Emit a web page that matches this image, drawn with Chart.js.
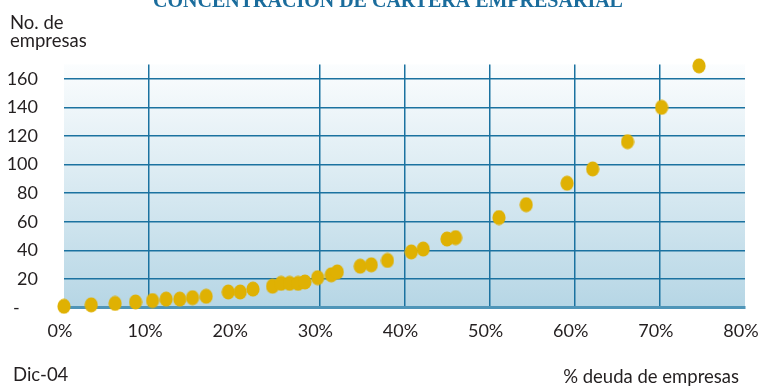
<!DOCTYPE html>
<html>
<head>
<meta charset="utf-8">
<script src="https://cdn.jsdelivr.net/npm/chart.js@4"></script>
<style>
  html, body { margin: 0; padding: 0; background: #ffffff; }
  #wrap { position: relative; width: 759px; height: 389px; }
</style>
</head>
<body>
<div id="wrap"><canvas id="c" width="759" height="389"></canvas></div>
<script>
// Concentración de cartera empresarial, Dic-04
const deudaPct = [0, 3.2, 6.0, 8.4, 10.4, 12.0, 13.6, 15.1, 16.7, 19.3, 20.7, 22.2, 24.5, 25.5, 26.5, 27.5, 28.3, 29.8, 31.4, 32.1, 34.8, 36.1, 38.0, 40.8, 42.2, 45.0, 46.0, 51.1, 54.3, 59.1, 62.1, 66.2, 70.2, 74.6];
const numEmpresas = [1, 2, 3, 4, 5, 6, 6, 7, 8, 11, 11, 13, 15, 17, 17, 17, 18, 21, 23, 25, 29, 30, 33, 39, 41, 48, 49, 63, 72, 87, 97, 116, 140, 169];
const yTicks = [0, 20, 40, 60, 80, 100, 120, 140, 160];
const xTicks = [0, 10, 20, 30, 40, 50, 60, 70, 80];
const xGridShown = [10, 30, 40, 50, 60, 70];

const titulo = 'CONCENTRACIÓN DE CARTERA EMPRESARIAL';
const ejeYTitulo = ['No. de', 'empresas'];
const ejeXTitulo = '% deuda de empresas';
const fecha = 'Dic-04';

const GOLD = '#dfb103';
const GRID = '#1b72a0';
const TEXT = '#231f20';
const FONT = 'Lato, "Open Sans", sans-serif';

// slightly tall oval marker
function ovalMarker() {
  const cv = document.createElement('canvas');
  cv.width = 14; cv.height = 16;
  const g = cv.getContext('2d');
  g.fillStyle = GOLD;
  g.beginPath();
  g.ellipse(7, 8, 6.6, 7.6, 0, 0, Math.PI * 2);
  g.fill();
  return cv;
}

const points = deudaPct.map((x, i) => ({ x: x, y: numEmpresas[i] }));

const decor = {
  id: 'decor',
  beforeDraw(chart) {
    const { ctx, chartArea: a } = chart;
    const grad = ctx.createLinearGradient(0, a.top, 0, a.bottom);
    grad.addColorStop(0, '#fbfdfe');
    grad.addColorStop(1, '#b6d6e5');
    ctx.save();
    ctx.fillStyle = grad;
    ctx.fillRect(a.left, a.top, a.right - a.left, a.bottom - a.top);
    ctx.restore();
  },
  afterDraw(chart) {
    const { ctx } = chart;
    ctx.save();
    ctx.fillStyle = '#1a6c9c';
    ctx.font = 'bold 20px "Liberation Serif", serif';
    ctx.textAlign = 'center';
    ctx.textBaseline = 'alphabetic';
    ctx.fillText(titulo, 388, 6.5);

    ctx.fillStyle = TEXT;
    ctx.textAlign = 'left';
    ctx.font = '18.5px ' + FONT;
    ctx.fillText(ejeYTitulo[0], 10, 29);
    ctx.fillText(ejeYTitulo[1], 10, 47);
    ctx.fillText(fecha, 13, 381);
    ctx.textAlign = 'right';
    ctx.fillText(ejeXTitulo, 739, 383);
    ctx.restore();
  }
};

new Chart(document.getElementById('c'), {
  type: 'scatter',
  data: {
    datasets: [{
      data: points,
      pointStyle: ovalMarker(),
      backgroundColor: GOLD,
      borderWidth: 0,
      clip: false
    }]
  },
  options: {
    responsive: false,
    animation: false,
    devicePixelRatio: 1,
    layout: { padding: { left: 0, right: 14, top: 64.4, bottom: 0 } },
    plugins: { legend: { display: false }, tooltip: { enabled: false } },
    scales: {
      x: {
        type: 'linear',
        min: 0, max: 80,
        afterBuildTicks: s => { s.ticks = xTicks.map(v => ({ value: v })); },
        afterFit: s => { s.height = 389 - 307.7; s.paddingLeft = 0; s.paddingRight = 0; },
        border: { display: true, color: '#4f95b8', width: 3 },
        grid: {
          drawTicks: false,
          lineWidth: 1.5,
          color: c => (c.tick && xGridShown.includes(c.tick.value)) ? GRID : 'rgba(0,0,0,0)'
        },
        ticks: {
          padding: 13,
          labelOffset: -4,
          color: TEXT,
          font: { family: FONT, size: 18 },
          callback: v => v + '%'
        }
      },
      y: {
        type: 'linear',
        min: 0, max: 170,
        afterBuildTicks: s => { s.ticks = yTicks.map(v => ({ value: v })); },
        afterFit: s => { s.width = 64; s.paddingTop = 0; s.paddingBottom = 0; },
        border: { display: false },
        grid: {
          drawTicks: false,
          lineWidth: 1.5,
          color: c => (c.tick && c.tick.value > 0) ? GRID : 'rgba(0,0,0,0)'
        },
        ticks: {
          padding: 26,
          color: TEXT,
          font: { family: FONT, size: 18 },
          // accounting-style zero: a dash held to the left
          callback: v => v === 0 ? '-    ' : String(v)
        }
      }
    }
  },
  plugins: [decor]
});
</script>
</body>
</html>
